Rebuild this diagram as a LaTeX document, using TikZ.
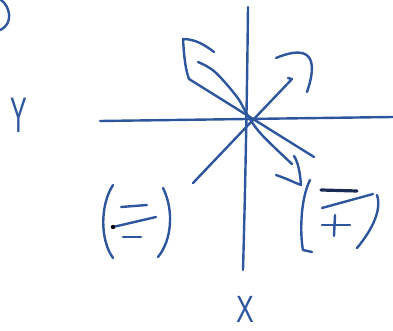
\documentclass[tikz,border=0pt]{standalone}
\usepackage{fontspec}
\setmainfont{Liberation Sans}
\definecolor{ink}{HTML}{2E569E}
\definecolor{darkink}{HTML}{1A2B55}
\begin{document}
\begin{tikzpicture}[x=1pt,y=-1pt,
  sketch/.style={draw=ink,line width=2.4pt,line cap=round,line join=round},
  label/.style={text=ink,inner sep=0pt}]
\useasboundingbox (0,0) rectangle (393,331);
% top-left partial parenthesis
\draw[sketch] (1,0) .. controls (10,6) and (14,24) .. (0,30);
% labels
\node[label,font=\fontsize{50}{50}\selectfont,xscale=0.5] (ylab) at (19,115) {Y};
\node[label,font=\fontsize{38}{38}\selectfont,xscale=0.7] (xlab) at (245,309) {X};
% axes
\coordinate (hl) at (100,121); \coordinate (hr) at (393,117);
\coordinate (vt) at (248,7);   \coordinate (vb) at (243,270);
\draw[sketch] (hl) -- (hr);
\draw[sketch] (vt) .. controls (247,100) and (245,200) .. (vb);
% SW-NE arrow
\coordinate (a1) at (193,183); \coordinate (a2) at (292,79);
\draw[sketch] (a1) -- (a2) -- (288,78);
\draw[sketch] (276,58) .. controls (300,48) and (322,48) .. (307,92);
% NW-SE hollow arrow
\draw[sketch] (214,52) .. controls (205,45) and (195,39) .. (183,39) .. controls (184,55) and (185,68) .. (189,79);
\draw[sketch] (189,79) -- (314,157);
\draw[sketch] plot[smooth,tension=0.6] coordinates {(198,62) (215,72) (237,97) (248,116) (262,135) (292,164)};
\draw[sketch] (276,175) .. controls (288,179) and (295,183) .. (301,185) .. controls (300,172) and (298,162) .. (294,156);
% left group ( = )
\draw[sketch] (113,185) .. controls (100,205) and (100,240) .. (113,258);
\draw[sketch] (163,188) .. controls (174,210) and (172,240) .. (158,257);
\draw[sketch] (121,207) -- (147,205);
\draw[sketch] (113,227) -- (156,217);
\fill[black] (113,227) circle (2.2pt);
\draw[sketch] (123,237) -- (141,237);
% right group ( -/+ )
\draw[sketch] (310,180) .. controls (300,200) and (300,235) .. (303,250) -- (312,252);
\draw[draw=darkink,line width=3.2pt,line cap=round] (321,190) -- (357,191);
\draw[sketch] (322,208) -- (373,194);
\draw[sketch] (322,225) -- (350,225);
\draw[sketch] (335,215) -- (334,236);
\draw[sketch] (377,195) .. controls (382,210) and (372,230) .. (357,248);
\end{tikzpicture}
\end{document}
